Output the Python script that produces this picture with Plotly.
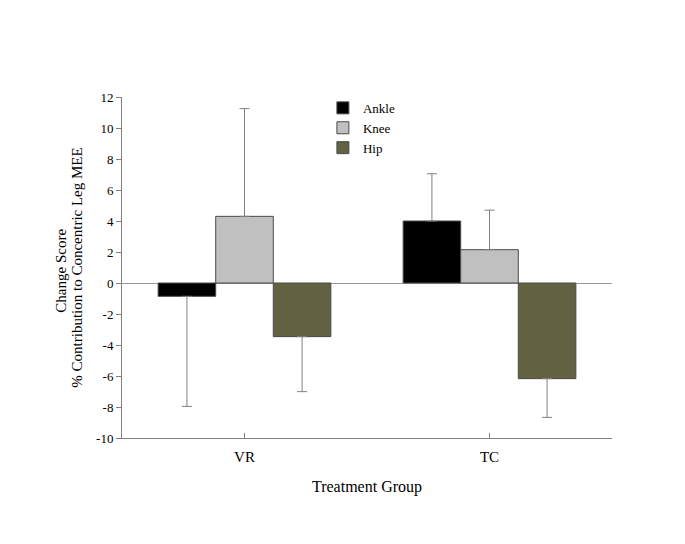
import plotly.graph_objects as go

groups = ["VR", "TC"]
series = ["Ankle", "Knee", "Hip"]
means = {
    "Ankle": [-0.86, 4.0],
    "Knee": [4.3, 2.15],
    "Hip": [-3.46, -6.17],
}
errs = {
    "Ankle": [7.1, 3.05],
    "Knee": [6.95, 2.55],
    "Hip": [3.55, 2.5],
}
colors = {"Ankle": "#000000", "Knee": "#c0c0c0", "Hip": "#626242"}
ytick_vals = [-10, -8, -6, -4, -2, 0, 2, 4, 6, 8, 10, 12]
ytick_text = ["-10", "-8", "-6", "-4", "-2", "0", "2", "4", "6", "8", "10", "12"]
ytitle_top = "Change Score"
ytitle_main = "% Contribution to Concentric Leg MEE"
xtitle = "Treatment Group"

FONT = "Liberation Serif"

fig = go.Figure()
for s in series:
    m = means[s]
    e = errs[s]
    up = [e[i] if m[i] >= 0 else 0 for i in range(len(m))]
    down = [e[i] if m[i] < 0 else 0 for i in range(len(m))]
    fig.add_trace(go.Bar(
        name=s, x=groups, y=m,
        marker=dict(color=colors[s], line=dict(color="#4a4a4a", width=1)),
        error_y=dict(type="data", symmetric=False, array=up, arrayminus=down,
                     color="#808080", thickness=1, width=5),
    ))

fig.add_annotation(text=ytitle_top, xref="paper", yref="paper",
                   x=-0.125, y=0.49, xanchor="center", yanchor="middle",
                   textangle=-90, showarrow=False,
                   font=dict(family=FONT, size=15, color="black"))

fig.update_layout(
    width=685, height=544,
    margin=dict(l=114, r=81, t=89, b=114),
    paper_bgcolor="white", plot_bgcolor="white",
    barmode="group", bargap=0.295, bargroupgap=0,
    font=dict(family=FONT, size=13, color="black"),
    showlegend=True,
    legend=dict(x=0.41, y=1.012, xanchor="left", yanchor="top",
                bgcolor="rgba(0,0,0,0)", font=dict(family=FONT, size=13),
                tracegroupgap=0, itemwidth=30),
    xaxis=dict(range=[-0.5, 1.5], showline=True, linecolor="#808080", linewidth=1,
               ticks="inside", ticklen=5, tickcolor="#808080", showgrid=False,
               ticklabelstandoff=5,
               tickfont=dict(family=FONT, size=15, color="black"),
               title=dict(text=xtitle, font=dict(family=FONT, size=16), standoff=16)),
    yaxis=dict(range=[-10, 12], tickmode="array", tickvals=ytick_vals, ticktext=ytick_text,
               showline=True, linecolor="#808080", linewidth=1,
               ticks="outside", ticklen=5, tickcolor="#808080", showgrid=False,
               zeroline=True, zerolinecolor="#999999", zerolinewidth=1,
               tickfont=dict(family=FONT, size=13, color="black"),
               title=dict(text=ytitle_main,
                          font=dict(family=FONT, size=15), standoff=9)),
)

fig.write_html("out.html")
